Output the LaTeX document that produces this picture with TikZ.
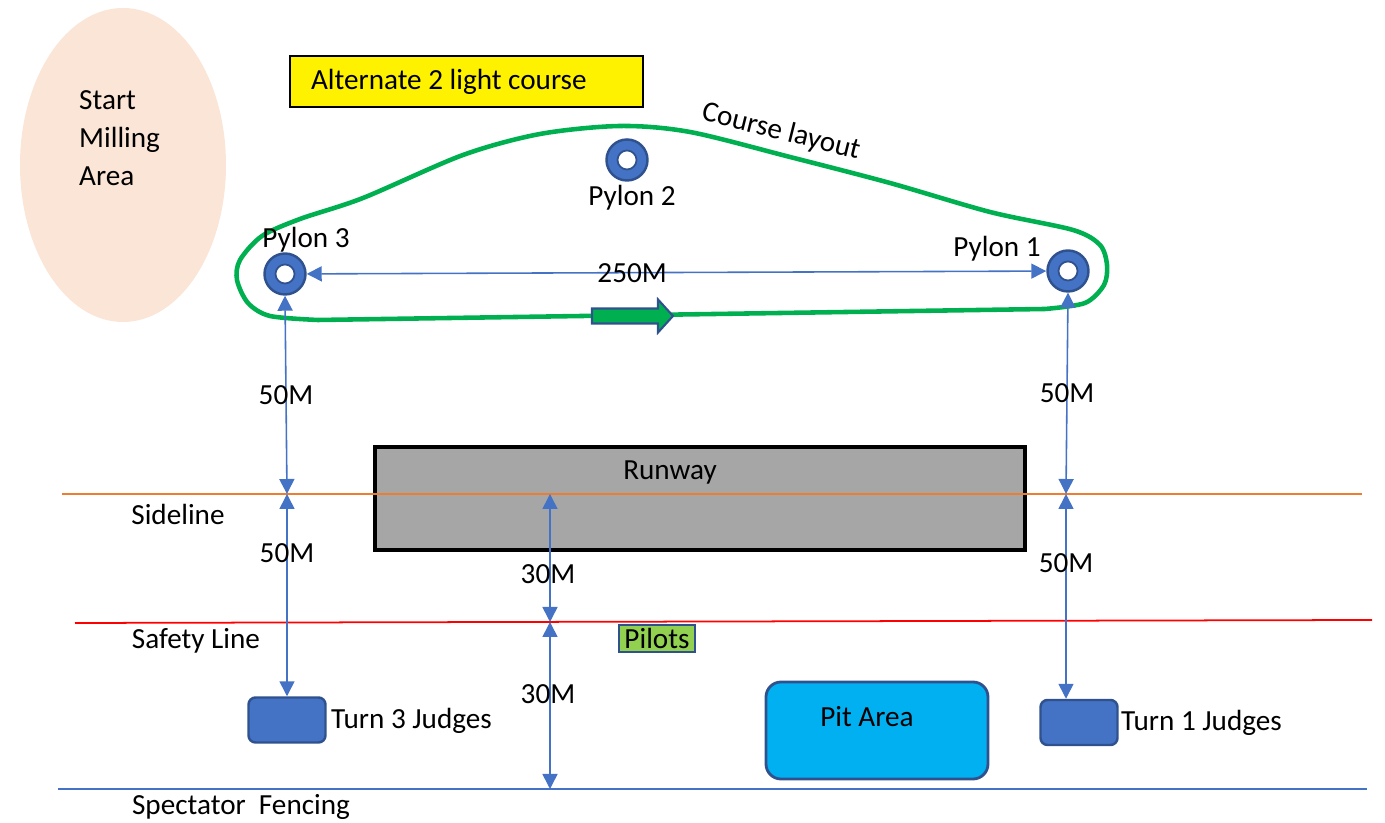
\documentclass[tikz,border=0pt]{standalone}
\usepackage{fontspec}
\setmainfont{Carlito}
\usepackage{xcolor}
\usetikzlibrary{arrows.meta,shapes.geometric}
\definecolor{msblue}{RGB}{68,114,196}
\definecolor{edgeblue}{RGB}{47,82,143}
\definecolor{course}{RGB}{0,176,80}
\definecolor{peach}{RGB}{251,229,214}
\definecolor{runwaygray}{RGB}{166,166,166}
\definecolor{pitblue}{RGB}{0,176,240}
\definecolor{pilotgreen}{RGB}{146,208,80}
\definecolor{sideorange}{RGB}{237,125,49}

\begin{document}
\begin{tikzpicture}[font=\fontsize{8.3}{10.8}\selectfont,
  pylon/.style={circle,draw=edgeblue,line width=0.7pt,fill=msblue,minimum size=0.41cm,inner sep=0pt,
    path picture={\fill[white,draw=edgeblue,line width=0.5pt] (path picture bounding box.center) circle (0.095);}},
  dim/.style={msblue,line width=0.45pt,{Triangle[length=0.15cm,width=0.15cm]}-{Triangle[length=0.15cm,width=0.15cm]}},
  judge/.style={draw=edgeblue,line width=0.7pt,fill=msblue,rounded corners=2pt,minimum width=0.77cm,minimum height=0.45cm,inner sep=0pt},
  lbl/.style={inner sep=1pt}]
  \useasboundingbox (0,0) rectangle (13.85,8.23);
  % start area + title
  \node[ellipse,fill=peach,minimum width=2.06cm,minimum height=3.14cm] (mill) at (1.23,6.58) {};
  \node[lbl,align=left,anchor=west] (milltxt) at (0.75,6.85) {Start\\Milling\\Area};
  \node[draw=black,line width=0.4pt,fill=yellow,minimum width=3.53cm,minimum height=0.51cm,inner xsep=0.21cm] (alt) at (4.665,7.415) {\makebox[3.11cm][l]{Alternate 2 light course}};
  % course loop
  \draw[course,line width=1.3pt,line join=round] plot[smooth] coordinates {(10.45,5.14) (10.85,5.20) (11.04,5.38) (11.07,5.58) (11.00,5.78) (10.73,5.93) (9.90,6.11) (8.90,6.40) (7.90,6.66) (6.90,6.91) (6.20,6.97) (5.40,6.89) (4.63,6.68) (3.63,6.25) (3.00,6.04) (2.62,5.87) (2.40,5.63) (2.37,5.43) (2.48,5.20) (2.70,5.07) (3.18,5.03)} -- cycle;
  \node[lbl,rotate=-14] (layout) at (7.81,6.91) {Course layout};
  \coordinate (flow) at (6.32,5.07);
  \draw[edgeblue,fill=course,line width=0.6pt] ([xshift=-0.40cm,yshift=0.075cm]flow) -- ++(0.66,0) -- ++(0,0.09) -- ++(0.15,-0.165) -- ++(-0.15,-0.165) -- ++(0,0.09) -- ++(-0.66,0) -- cycle;
  % pylons
  \node[pylon] (p3) at (2.85,5.49) {};
  \node[pylon] (p2) at (6.27,6.63) {};
  \node[pylon] (p1) at (10.68,5.52) {};
  \node[lbl] (p3txt) at (3.06,5.83) {Pylon 3};
  \node[lbl] (p2txt) at (6.32,6.25) {Pylon 2};
  \node[lbl] (p1txt) at (9.97,5.74) {Pylon 1};
  % field
  \node[draw=black,line width=0.9pt,fill=runwaygray,minimum width=6.5cm,minimum height=1.03cm] (runway) at (7.00,3.245) {};
  \node[lbl] (runtxt) at (6.70,3.50) {Runway};
  \coordinate (sideW) at (0.62,3.29);
  \coordinate (sideE) at (13.62,3.29);
  \coordinate (safeW) at (0.75,2.00);
  \coordinate (safeE) at (13.72,2.03);
  \coordinate (fenceW) at (0.58,0.34);
  \coordinate (fenceE) at (13.67,0.34);
  \draw[sideorange,line width=0.5pt] (sideW) -- (sideE);
  \draw[red,line width=0.5pt] (safeW) -- (safeE);
  \draw[msblue,line width=0.5pt] (fenceW) -- (fenceE);
  \node[lbl] (sidetxt) at (1.78,3.09) {Sideline};
  \node[lbl] (safetxt) at (1.96,1.82) {Safety Line};
  \node[lbl] (fencetxt) at (2.41,0.16) {Spectator\ \ Fencing};
  \node[draw=edgeblue,line width=0.8pt,fill=pilotgreen,minimum width=0.76cm,minimum height=0.27cm,inner sep=0pt] (pilots) at (6.57,1.845) {Pilots};
  \node[draw=edgeblue,line width=0.8pt,fill=pitblue,rounded corners=0.15cm,minimum width=2.22cm,minimum height=0.97cm] (pit) at (8.77,0.925) {};
  \node[lbl] (pittxt) at (8.67,1.06) {Pit Area};
  \node[judge] (t3j) at (2.87,1.03) {};
  \node[lbl,anchor=west] (t3txt) at (3.27,1.02) {Turn 3 Judges};
  \node[judge] (t1j) at (10.79,1.005) {};
  \node[lbl,anchor=west] (t1txt) at (11.17,1.00) {Turn 1 Judges};
  % distances
  \coordinate (s3) at (2.87,3.29);
  \coordinate (s1) at (10.66,3.29);
  \coordinate (sm) at (5.50,3.29);
  \coordinate (fm) at (5.50,2.01);
  \coordinate (em) at (5.50,0.34);
  \draw[dim] (p3) -- (p1) node[lbl,black,pos=0.44]{250M};
  \draw[dim] (p3.south) -- (s3) node[lbl,black,midway]{50M};
  \draw[dim] (s3) -- (t3j.north) node[lbl,black,pos=0.29]{50M};
  \draw[dim] (p1.south) -- (s1) node[lbl,black,midway]{50M};
  \draw[dim] (s1) -- (t1j.north -| s1) node[lbl,black,pos=0.34]{50M};
  \draw[dim] (sm) -- (fm) node[lbl,black,pos=0.625,xshift=-0.02cm]{30M};
  \draw[dim] (fm) -- (em) node[lbl,black,pos=0.43,xshift=-0.02cm]{30M};
\end{tikzpicture}
\end{document}
